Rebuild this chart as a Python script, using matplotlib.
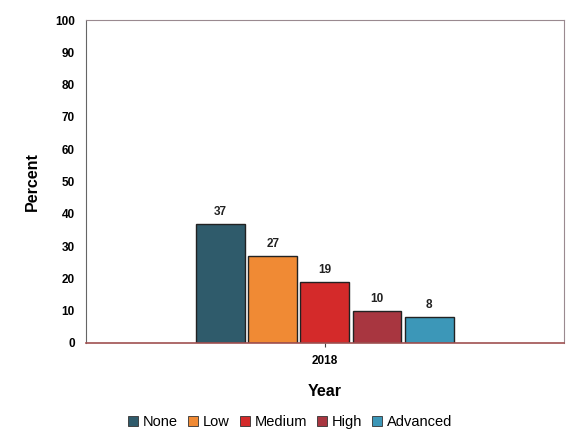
import numpy as np
import matplotlib.pyplot as plt
from matplotlib.patches import Patch

# digital skill level shares, one survey year
years = ['2018']
levels = ['None', 'Low', 'Medium', 'High', 'Advanced']
percent = [37, 27, 19, 10, 8]
colors = ['#2f5b6b', '#f08a34', '#d42a2a', '#a83640', '#3c97b8']

plt.rcParams['font.family'] = ['Liberation Sans', 'DejaVu Sans']
plt.rcParams['font.weight'] = 'bold'

fig = plt.figure(figsize=(5.69, 4.38), dpi=100)
ax = fig.add_axes([0.151, 0.217, 0.840, 0.737])

width = 0.205
step = 0.218
x = np.arange(len(levels)) * step
x = x - x.mean()
bars = ax.bar(x, percent, width=width, color=colors,
              edgecolor='#222222', linewidth=1.0, zorder=2)
for b, v in zip(bars, percent):
    ax.text(b.get_x() + b.get_width() / 2, v + 1.8, str(v),
            ha='center', va='bottom', fontsize=8.5, fontweight='bold', color='#222222')

ax.set_xlim(-1, 1)
ax.set_ylim(0, 100)
ax.set_yticks(np.arange(0, 101, 10))
ax.set_xticks([0])
ax.set_xticklabels(years)
ax.tick_params(axis='y', length=0, labelsize=8.5, pad=8)
ax.tick_params(axis='x', length=3, labelsize=8.5, pad=6, color='#444444')
for lbl in ax.get_xticklabels() + ax.get_yticklabels():
    lbl.set_fontweight('bold')

ax.set_ylabel('Percent', fontsize=11.5, fontweight='bold', labelpad=11)
ax.set_xlabel('Year', fontsize=11.5, fontweight='bold', labelpad=12)

ax.spines['left'].set_color('#666666')
ax.spines['bottom'].set_color('#a05050')
ax.spines['bottom'].set_linewidth(1.2)
for s in ('top', 'right'):
    ax.spines[s].set_color('#9a8a90')
    ax.spines[s].set_linestyle((0, (4, 1)))
    ax.spines[s].set_linewidth(0.8)

handles = [Patch(facecolor=c, edgecolor='#333333', linewidth=0.6) for c in colors]
fig.legend(handles, levels, loc='center', bbox_to_anchor=(0.51, 0.037), ncol=5,
           frameon=False, handlelength=0.7, handleheight=0.7,
           handletextpad=0.3, columnspacing=0.7, prop={'weight': 'normal', 'size': 10.5})

fig.savefig('out.png', dpi=100)
